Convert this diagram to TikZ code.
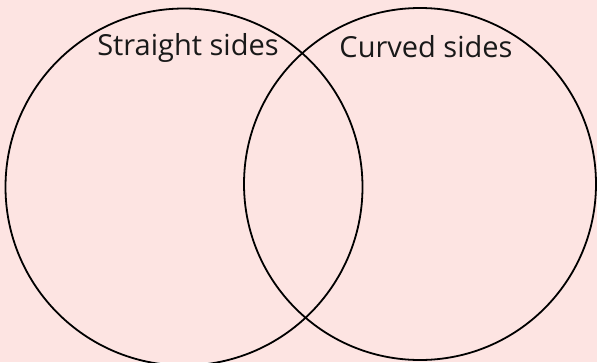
\documentclass[tikz,border=0pt]{standalone}
\usepackage{fontspec}
\setmainfont{Open Sans}
\usepackage{tikz}
\definecolor{vpink}{RGB}{253,228,226}
\tikzset{
  venn/.style={x=1pt, y=-1pt},
  v set/.style={draw=black, line width=1.8pt, circle, inner sep=0pt},
  v lab/.style={anchor=base, font=\fontsize{29}{33}\selectfont, text=black!90},
}

\begin{document}
\begin{tikzpicture}[venn]
% ---- background ----
\fill[vpink] (0, 0) rectangle (597, 362);
\useasboundingbox (0, 0) rectangle (597, 362);
\clip (0, 0) rectangle (597, 362);
% ---- sets ----
\node[v set, minimum size=357pt] (straight) at (184, 187) {};
\node[v set, minimum size=352pt] (curved)   at (420, 184) {};
% ---- labels ----
\node[v lab] (straightlab) at (188, 55) {Straight sides};
\node[v lab] (curvedlab)   at (426, 57) {Curved sides};
\end{tikzpicture}
\end{document}
